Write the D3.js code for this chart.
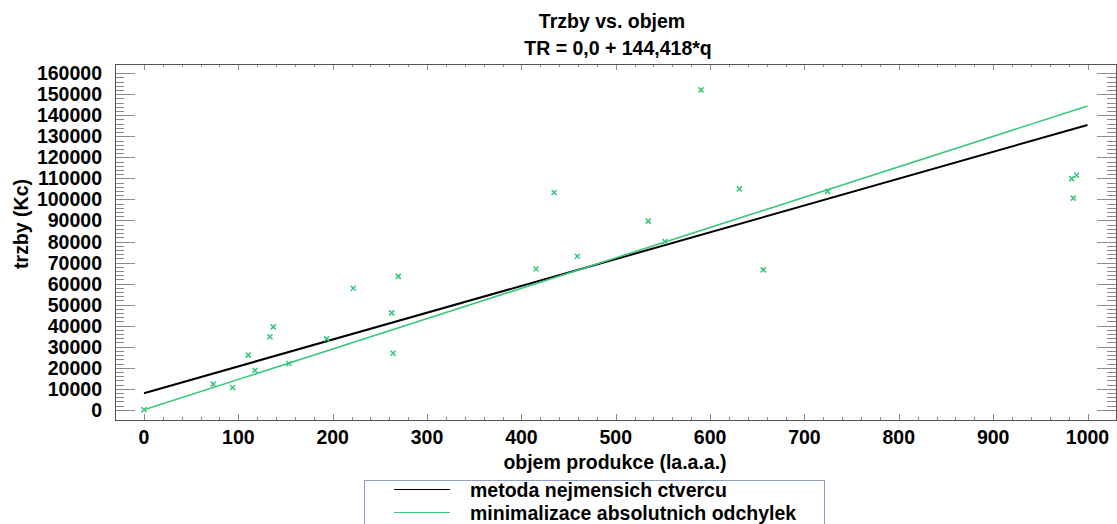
<!DOCTYPE html>
<html>
<head>
<meta charset="utf-8">
<script src="https://cdn.jsdelivr.net/npm/d3@7"></script>
<style>
  body { margin: 0; background: #fff; }
  text { font-family: "Liberation Sans", Arial, sans-serif; font-weight: bold; fill: #000; }
</style>
</head>
<body>
<div id="container"></div>
<script>
// objem produkce (q) and trzby (TR)
const volume = [0, 73.5, 94, 110.6, 117.6, 133.5, 137, 153.7, 193.6, 221.8, 262.5, 264, 269.5,
                415.5, 434.6, 459.3, 534.5, 552.2, 590.4, 631, 656.4, 724.6, 983.2, 985, 988.5]
const sales = [0, 12200, 10600, 26000, 18700, 34700, 39400, 22000, 33700, 57800, 46100, 26900, 63400,
               66900, 103300, 73000, 89700, 80000, 152100, 105000, 66500, 103800, 109900, 100600, 111500]

// fitted lines, values at the ends of the x range
const fitX = [0, 1000]
const lsqY = [7900, 135400]
const ladY = [0, 144418]

const titleLines = ["Trzby vs. objem", "TR = 0,0 + 144,418*q"]
const legendLabels = ["metoda nejmensich ctvercu", "minimalizace absolutnich odchylek"]
const xTicks = d3.range(0, 1001, 100)
const yTicks = d3.range(0, 160001, 10000)

const width = 1117
const height = 524
const frame = {left: 115, top: 64, right: 1116, bottom: 420}
const green = "#3cc77d"
const fs = "19.5px"

const x = d3.scaleLinear().domain([0, 1000]).range([144, 1087.5])
const y = d3.scaleLinear().domain([0, 160000]).range([409.8, 73.2])

const svg = d3.create("svg")
    .attr("width", width)
    .attr("height", height)

// title
svg.selectAll(".title")
    .data(titleLines)
    .enter().append("text")
    .attr("class", "title")
    .attr("x", (d, i) => i === 0 ? 612 : 618)
    .attr("y", (d, i) => 28 + i * 27)
    .attr("text-anchor", "middle")
    .style("font-size", fs)
    .text(d => d)

// ticks
const tickColor = "#8a8a8a"
const yMinor = d3.range(0, 160001, 2000)
svg.append("g").selectAll("line")
    .data(yMinor)
    .enter().append("line")
    .attr("x1", frame.left)
    .attr("x2", d => frame.left + (d % 10000 === 0 ? 20 : 9))
    .attr("y1", d => Math.round(y(d)) + 0.5)
    .attr("y2", d => Math.round(y(d)) + 0.5)
    .attr("stroke", tickColor)
svg.append("g").selectAll("line")
    .data(yMinor)
    .enter().append("line")
    .attr("x1", frame.right)
    .attr("x2", d => frame.right - (d % 10000 === 0 ? 19 : 9))
    .attr("y1", d => Math.round(y(d)) + 0.5)
    .attr("y2", d => Math.round(y(d)) + 0.5)
    .attr("stroke", tickColor)

const xMinor = d3.range(0, 1001, 20)
svg.append("g").selectAll("line")
    .data(xMinor)
    .enter().append("line")
    .attr("x1", d => Math.round(x(d)) + 0.5)
    .attr("x2", d => Math.round(x(d)) + 0.5)
    .attr("y1", frame.top)
    .attr("y2", d => frame.top + (d % 100 === 0 ? 6 : 3))
    .attr("stroke", tickColor)
svg.append("g").selectAll("line")
    .data(xMinor)
    .enter().append("line")
    .attr("x1", d => Math.round(x(d)) + 0.5)
    .attr("x2", d => Math.round(x(d)) + 0.5)
    .attr("y1", frame.bottom)
    .attr("y2", d => frame.bottom - (d % 100 === 0 ? 6 : 3))
    .attr("stroke", tickColor)

// frame
svg.append("rect")
    .attr("x", frame.left + 0.5)
    .attr("y", frame.top + 0.5)
    .attr("width", frame.right - frame.left)
    .attr("height", frame.bottom - frame.top)
    .attr("fill", "none")
    .attr("stroke", "#555")

// tick labels
svg.append("g").selectAll("text")
    .data(yTicks)
    .enter().append("text")
    .attr("x", 102)
    .attr("y", d => y(d) + 7)
    .attr("text-anchor", "end")
    .style("font-size", fs)
    .text(d => d)

svg.append("g").selectAll("text")
    .data(xTicks)
    .enter().append("text")
    .attr("x", d => x(d))
    .attr("y", 444)
    .attr("text-anchor", "middle")
    .style("font-size", fs)
    .text(d => d)

// axis titles
svg.append("text")
    .attr("x", 615)
    .attr("y", 469)
    .attr("text-anchor", "middle")
    .style("font-size", fs)
    .text("objem produkce (la.a.a.)")

svg.append("text")
    .attr("transform", "translate(28, 224) rotate(-90)")
    .attr("text-anchor", "middle")
    .style("font-size", fs)
    .text("trzby (Kc)")

// fitted lines
const line = d3.line().x(d => x(d[0])).y(d => y(d[1]))
svg.append("path")
    .attr("d", line(d3.zip(fitX, lsqY)))
    .attr("stroke", "#000")
    .attr("stroke-width", 2)
    .attr("fill", "none")
svg.append("path")
    .attr("d", line(d3.zip(fitX, ladY)))
    .attr("stroke", green)
    .attr("stroke-width", 1.6)
    .attr("fill", "none")

// points as small crosses
const s = 2.5
svg.append("g").selectAll("path")
    .data(d3.zip(volume, sales))
    .enter().append("path")
    .attr("d", d => {
        const px = x(d[0]), py = y(d[1])
        return `M${px - s},${py - s}L${px + s},${py + s}M${px - s},${py + s}L${px + s},${py - s}`
    })
    .attr("stroke", green)
    .attr("stroke-width", 1.6)
    .attr("fill", "none")

// legend
const legend = svg.append("g")
legend.append("rect")
    .attr("x", 364.5)
    .attr("y", 480.5)
    .attr("width", 460)
    .attr("height", 60)
    .attr("fill", "none")
    .attr("stroke", "#8f9fc6")
legend.selectAll(".item")
    .data(legendLabels)
    .enter().append("line")
    .attr("x1", 394)
    .attr("x2", 450)
    .attr("y1", (d, i) => 489.5 + i * 23)
    .attr("y2", (d, i) => 489.5 + i * 23)
    .attr("stroke", (d, i) => i === 0 ? "#000" : green)
    .attr("stroke-width", 1.2)
legend.selectAll("text")
    .data(legendLabels)
    .enter().append("text")
    .attr("x", 470)
    .attr("y", (d, i) => 496.5 + i * 23)
    .style("font-size", fs)
    .text(d => d)

document.querySelector("#container").appendChild(svg.node())
</script>
</body>
</html>
